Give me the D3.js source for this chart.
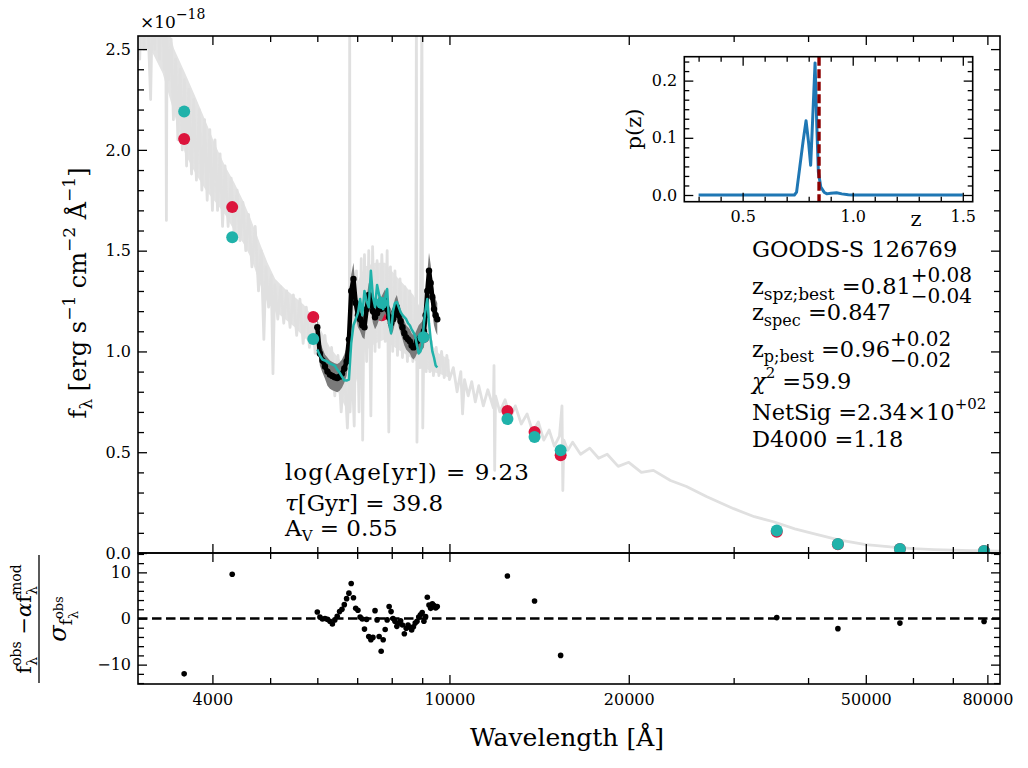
<!DOCTYPE html>
<html><head><meta charset="utf-8">
<script src="https://cdn.jsdelivr.net/npm/d3@7"></script>
<style>body{margin:0;background:#fff} text{font-family:'DejaVu Serif';}</style>
</head><body>
<svg id="c" width="1028" height="768"></svg>
<script>
// ---------------- DATA ----------------
const modelWave = [3000,3020,3045,3070,3095,3120,3150,3175,3200,3230,3260,3290,3320,3340,3348,3356,3380,3410,3440,3470,3500,3530,3560,3590,3620,3650,3690,3720,3760,3800,3840,3880,3920,3960,4000,4040,4080,4120,4160,4200,4250,4300,4350,4400,4450,4500,4550,4600,4660,4720,4780,4830,4880,4920,4970,5020,5055,5090,5150,5210,5270,5330,5400,5470,5540,5610,5680,5750,5820,5890,5950,6020,6100,6180,6260,6340,6420,6500,6580,6660,6740,6790,6800,6810,6860,6920,6980,7050,7110,7150,7200,7260,7320,7380,7430,7500,7560,7620,7700,7800,7860,7910,7960,8030,8100,8180,8260,8340,8420,8500,8580,8680,8780,8800,8820,8870,8930,8990,9020,9080,9140,9200,9270,9330,9400,9500,9600,9700,9800,9900,10000,10150,10300,10450,10520,10600,10750,10900,11050,11200,11400,11600,11850,11880,11910,11950,12150,12400,12650,12900,13200,13500,13800,14100,14400,14700,15000,15300,15450,15500,15560,15800,16100,16600,17200,17800,18400,19200,20000,21000,22000,23500,25000,27000,30000,32500,35000,38000,41000,45000,50000,55000,60000,65000,70000,75000,80000,84000];
const modelFlux = [2.80,2.45,2.90,2.50,2.85,2.60,2.25,2.80,2.50,2.85,2.45,2.75,2.40,2.65,1.65,2.55,2.35,2.55,2.15,2.45,2.05,2.40,2.00,2.35,1.92,2.30,1.88,2.25,1.85,2.20,1.80,2.15,1.75,2.10,1.70,2.05,1.70,1.98,1.62,1.92,1.62,1.86,1.58,1.80,1.55,1.74,1.50,1.68,1.42,1.62,1.30,1.50,1.06,1.42,1.22,1.38,0.89,1.33,1.16,1.32,1.14,1.30,1.12,1.28,1.08,1.26,1.04,1.22,1.02,1.18,0.99,1.14,0.95,1.08,0.88,1.02,0.78,0.98,0.70,0.92,0.62,0.88,2.70,0.70,0.95,0.63,1.40,0.70,1.46,0.56,1.48,0.95,1.50,0.68,1.52,1.00,1.45,1.02,1.48,1.05,1.50,0.60,1.42,1.00,1.40,0.98,1.36,0.97,1.32,0.95,1.30,0.95,1.25,2.70,0.55,1.22,0.92,2.70,0.62,1.28,0.90,1.30,0.90,1.05,0.88,1.02,0.88,1.00,0.87,0.98,0.86,0.92,0.80,0.90,0.69,0.86,0.78,0.85,0.75,0.83,0.73,0.81,0.72,0.93,0.41,0.78,0.70,0.76,0.67,0.73,0.64,0.69,0.60,0.65,0.56,0.61,0.53,0.58,0.73,0.31,0.56,0.51,0.55,0.49,0.52,0.47,0.49,0.43,0.45,0.40,0.41,0.36,0.33,0.28,0.22,0.18,0.155,0.12,0.095,0.065,0.042,0.03,0.022,0.017,0.014,0.012,0.01,0.009];
// envelope of the dense model band (blue end)
const envWave = [3000,3150,3300,3450,3600,3750,3900,4050,4200,4350,4500,4650,4800,4950,5100,5300,5500,5700,5900,6100,6300,6500,6700,6900,7200,7500,7800,8100,8400,8700,9000,9300,9600,10000];
const envHi   = [2.80,2.80,2.70,2.50,2.38,2.26,2.14,2.02,1.92,1.84,1.75,1.65,1.54,1.44,1.36,1.31,1.27,1.23,1.17,1.10,1.02,0.97,0.92,1.30,1.42,1.44,1.44,1.38,1.33,1.28,1.20,1.04,0.99,0.96];
const envLo   = [2.50,2.50,2.38,2.18,1.98,1.88,1.80,1.74,1.68,1.60,1.54,1.46,1.34,1.24,1.20,1.16,1.12,1.07,1.03,0.96,0.88,0.80,0.72,0.80,1.00,1.04,1.06,1.02,0.99,0.96,0.93,0.90,0.89,0.87];

const specWave = [6000,6060,6120,6180,6240,6300,6360,6420,6480,6540,6600,6660,6720,6780,6840,6900,6960,7020,7080,7140,7200,7260,7320,7380,7440,7500,7560,7620,7680,7740,7800,7860,7920,7980,8040,8100,8160,8220,8280,8340,8400,8460,8520,8580,8640,8700,8760,8820,8880,8940,9000,9060,9120,9180,9240,9300,9360,9420,9480,9540];
const specFlux = [1.12,0.99,0.955,0.925,0.90,0.885,0.878,0.872,0.868,0.875,0.89,0.915,0.95,1.06,1.30,1.36,1.24,1.18,1.16,1.13,1.12,1.21,1.28,1.26,1.20,1.17,1.19,1.22,1.21,1.23,1.25,1.21,1.17,1.14,1.16,1.20,1.22,1.18,1.15,1.12,1.09,1.07,1.06,1.05,1.03,1.02,1.03,1.05,1.06,1.07,1.08,1.10,1.18,1.30,1.40,1.34,1.27,1.21,1.18,1.16];
const specErr = [0.06,0.06,0.06,0.06,0.07,0.07,0.07,0.07,0.07,0.07,0.07,0.07,0.07,0.08,0.08,0.08,0.07,0.06,0.06,0.06,0.06,0.06,0.06,0.06,0.06,0.06,0.06,0.06,0.06,0.06,0.06,0.06,0.06,0.06,0.06,0.06,0.06,0.06,0.06,0.06,0.06,0.06,0.06,0.06,0.06,0.06,0.06,0.06,0.07,0.07,0.07,0.08,0.08,0.09,0.09,0.09,0.08,0.08,0.08,0.08];
const specModel = [1.01,0.98,0.96,0.955,0.95,0.94,0.935,0.93,0.91,0.895,0.875,0.857,0.856,0.86,1.04,1.13,1.16,1.19,1.26,1.18,1.30,1.25,1.22,1.40,1.27,1.22,1.33,1.28,1.25,1.21,1.27,1.31,1.14,1.09,1.20,1.24,1.245,1.22,1.195,1.18,1.17,1.16,1.14,1.13,1.11,1.095,1.075,1.03,0.99,1.00,1.03,1.14,1.21,1.26,1.14,1.06,1.00,0.97,0.93,0.92];
const specResid = [1.4,0.3,-0.1,0.0,-0.2,-0.6,-1.2,-0.3,0.5,1.5,2.0,3.0,4.3,5.5,7.6,4.5,2.2,1.8,0.3,-0.1,-2.3,-0.2,-3.9,-4.6,-4.1,1.7,-0.3,-3.9,-7.1,-4.6,-2.4,-0.3,2.6,1.5,0.0,-0.6,-1.7,-1.0,-0.5,-1.4,-3.3,-2.1,-1.4,-1.9,-2.5,-1.8,-1.0,-0.6,0.3,0.8,1.3,-0.6,0.4,4.6,2.9,2.2,3.2,2.8,2.3,2.6];

const photWave = [3586,4318,5907,7700,9042,12512,13895,15370,35440,44890,57050,78980];
const photObs  = [2.054,1.716,1.171,1.18,1.07,0.705,0.600,0.485,0.106,0.043,0.020,0.010];
const photMod  = [2.19,1.567,1.062,1.24,1.07,0.665,0.575,0.51,0.112,0.045,0.020,0.010];
const photResid = [-12.0,9.6,null,null,null,9.2,3.8,-8.0,0.2,-2.2,-1.0,-0.65];

const pzZ = [0.30,0.50,0.70,0.735,0.745,0.76,0.775,0.788,0.80,0.809,0.82,0.829,0.837,0.844,0.855,0.87,0.882,0.90,0.927,0.95,0.98,1.00,1.20,1.50];
const pzP = [0,0,0,0,0.005,0.05,0.095,0.13,0.09,0.052,0.15,0.231,0.12,0.04,0.014,0.005,0.002,0.003,0.004,0.002,0.0005,0,0,0];
const zSpec = 0.847;

const xMajor = [4000,10000,20000,50000,80000];
const xMinor = [5000,6000,7000,8000,9000,30000,40000,60000,70000];
const yMajor = [0,0.5,1.0,1.5,2.0,2.5];
const rMajor = [-10,0,10];
const izMajor = [0.5,1.0,1.5];
const ipMajor = [0,0.1,0.2];

// ---------------- SETUP ----------------
const FONT = 'DejaVu Serif';
const svg = d3.select('#c');
svg.append('rect').attr('width',1028).attr('height',768).attr('fill','#fff');

const L=138,R=1000,T=36,MB=553,RB=684;
const x = d3.scaleLog().domain([3000,84000]).range([L,R]);
const y = d3.scaleLinear().domain([0,2.565]).range([MB,T]);
const yr = d3.scaleLinear().domain([-14.2,14.2]).range([RB,MB]);

const defs = svg.append('defs');
defs.append('clipPath').attr('id','cm').append('rect').attr('x',L).attr('y',T).attr('width',R-L).attr('height',MB-T);
defs.append('clipPath').attr('id','cr').append('rect').attr('x',L).attr('y',MB).attr('width',R-L).attr('height',RB-MB);

function mtext(parent, px, py, segs, o={}) {
  const outer = parent.append('g').attr('transform', `translate(${px},${py})` + (o.rot!==undefined?` rotate(${o.rot})`:''));
  const g = outer.append('g');
  let cx = 0;
  const put = (s, at) => {
    const t = g.append('text').attr('x', at + (s.dx||0)).attr('y', s.dy||0)
      .attr('font-size', s.fs||o.fs||24).attr('font-family', FONT).attr('fill','#000')
      .attr('font-style', s.it?'italic':null).style('white-space','pre')
      .style('letter-spacing', s.ls!==undefined ? s.ls+'px' : (o.ls!==undefined? o.ls+'px': null)).text(s.t);
    return (s.dx||0) + t.node().getComputedTextLength();
  };
  for (const s of segs) {
    if (s.stack) { let w=0; for (const u of s.stack) w=Math.max(w, put(u,cx)); cx+=w; }
    else cx += put(s,cx);
  }
  if (o.anchor==='middle') g.attr('transform',`translate(${-cx/2},0)`);
  return cx;
}

function style(g, fs) {
  g.select('.domain').remove();
  g.selectAll('.tick line').attr('stroke','#000').attr('stroke-width',1.3);
  g.selectAll('.tick text').attr('font-family',FONT).attr('font-size',fs||16).attr('fill','#000');
}

// ---------------- MAIN PANEL ----------------
const gm = svg.append('g').attr('clip-path','url(#cm)');
gm.append('path').datum(envWave.map((w,i)=>[w,envHi[i],envLo[i]]))
  .attr('d', d3.area().x(d=>x(d[0])).y0(d=>y(d[2])).y1(d=>y(d[1])))
  .attr('fill','#e3e3e3');
const modelData = modelWave.map((w,i)=>[w,modelFlux[i]]);
gm.append('path').datum(modelData)
  .attr('d', d3.line().x(d=>x(d[0])).y(d=>y(d[1])))
  .attr('fill','none').attr('stroke','#e0e0e0').attr('stroke-width',2.8).attr('stroke-linejoin','round');

const phot = photWave.map((w,i)=>({w,o:photObs[i],m:photMod[i],r:photResid[i]}));
gm.selectAll('circle.po').data(phot).join('circle').attr('class','po')
  .attr('cx',d=>x(d.w)).attr('cy',d=>y(d.o)).attr('r',6).attr('fill','#dc143c');

const spec = specWave.map((w,i)=>({w,f:specFlux[i],e:specErr[i],m:specModel[i],r:specResid[i]}));
gm.append('path').datum(spec)
  .attr('d', d3.area().x(d=>x(d.w)).y0(d=>y(d.f-d.e)).y1(d=>y(d.f+d.e)))
  .attr('fill','#7a7a7a');
gm.append('path').datum(spec)
  .attr('d', d3.line().x(d=>x(d.w)).y(d=>y(d.f)))
  .attr('fill','none').attr('stroke','#000').attr('stroke-width',4.5).attr('stroke-linejoin','round');
gm.selectAll('circle.sd').data(spec).join('circle').attr('class','sd')
  .attr('cx',d=>x(d.w)).attr('cy',d=>y(d.f)).attr('r',3.2).attr('fill','#000');
gm.append('path').datum(spec)
  .attr('d', d3.line().x(d=>x(d.w)).y(d=>y(d.m)))
  .attr('fill','none').attr('stroke','#20b2aa').attr('stroke-width',2.5).attr('stroke-linejoin','round');
gm.selectAll('circle.pm').data(phot).join('circle').attr('class','pm')
  .attr('cx',d=>x(d.w)).attr('cy',d=>y(d.m)).attr('r',6).attr('fill','#20b2aa');

// main axes
const yMinor = d3.range(1,26).map(i=>i/10).filter(v=>Math.abs(v*2-Math.round(v*2))>1e-6);
style(svg.append('g').attr('transform',`translate(${L},0)`).call(d3.axisLeft(y).tickValues(yMajor).tickFormat(d3.format('.1f')).tickSize(-9).tickPadding(7)));
style(svg.append('g').attr('transform',`translate(${L},0)`).call(d3.axisLeft(y).tickValues(yMinor).tickFormat('').tickSize(-6)));
style(svg.append('g').attr('transform',`translate(${R},0)`).call(d3.axisRight(y).tickValues(yMajor).tickFormat('').tickSize(-9)));
style(svg.append('g').attr('transform',`translate(${R},0)`).call(d3.axisRight(y).tickValues(yMinor).tickFormat('').tickSize(-6)));
style(svg.append('g').attr('transform',`translate(0,${T})`).call(d3.axisTop(x).tickValues(xMajor).tickFormat('').tickSize(-9)));
style(svg.append('g').attr('transform',`translate(0,${T})`).call(d3.axisTop(x).tickValues(xMinor).tickFormat('').tickSize(-6)));
style(svg.append('g').attr('transform',`translate(0,${MB})`).call(d3.axisBottom(x).tickValues(xMajor).tickFormat('').tickSize(-9)));
style(svg.append('g').attr('transform',`translate(0,${MB})`).call(d3.axisBottom(x).tickValues(xMinor).tickFormat('').tickSize(-6)));
svg.append('rect').attr('x',L).attr('y',T).attr('width',R-L).attr('height',MB-T).attr('fill','none').attr('stroke','#000').attr('stroke-width',1.6);

// ---------------- RESIDUAL PANEL ----------------
const gr = svg.append('g').attr('clip-path','url(#cr)');
gr.append('line').attr('x1',x(3000)).attr('x2',x(84000)).attr('y1',yr(0)).attr('y2',yr(0))
  .attr('stroke','#000').attr('stroke-width',2.6).attr('stroke-dasharray','9.5,4.5');
gr.selectAll('circle.rs').data(spec).join('circle').attr('class','rs')
  .attr('cx',d=>x(d.w)).attr('cy',d=>yr(d.r)).attr('r',2.8).attr('fill','#000');
gr.selectAll('circle.rp').data(phot.filter(d=>d.r!==null)).join('circle').attr('class','rp')
  .attr('cx',d=>x(d.w)).attr('cy',d=>yr(d.r)).attr('r',2.8).attr('fill','#000');

const rMinor = d3.range(-14,15,2).filter(v=>v%10!==0);
style(svg.append('g').attr('transform',`translate(${L},0)`).call(d3.axisLeft(yr).tickValues(rMajor).tickFormat(d3.format('d')).tickSize(-9).tickPadding(7)));
style(svg.append('g').attr('transform',`translate(${L},0)`).call(d3.axisLeft(yr).tickValues(rMinor).tickFormat('').tickSize(-6)));
style(svg.append('g').attr('transform',`translate(${R},0)`).call(d3.axisRight(yr).tickValues(rMajor).tickFormat('').tickSize(-9)));
style(svg.append('g').attr('transform',`translate(${R},0)`).call(d3.axisRight(yr).tickValues(rMinor).tickFormat('').tickSize(-6)));
style(svg.append('g').attr('transform',`translate(0,${MB})`).call(d3.axisTop(x).tickValues(xMajor).tickFormat('').tickSize(-9)));
style(svg.append('g').attr('transform',`translate(0,${MB})`).call(d3.axisTop(x).tickValues(xMinor).tickFormat('').tickSize(-6)));
style(svg.append('g').attr('transform',`translate(0,${RB})`).call(d3.axisBottom(x).tickValues(xMajor).tickFormat(d=>String(d)).tickSize(-9).tickPadding(10)));
style(svg.append('g').attr('transform',`translate(0,${RB})`).call(d3.axisBottom(x).tickValues(xMinor).tickFormat('').tickSize(-6)));
svg.append('rect').attr('x',L).attr('y',MB).attr('width',R-L).attr('height',RB-MB).attr('fill','none').attr('stroke','#000').attr('stroke-width',1.6);

// ---------------- INSET ----------------
const IL=684.3, IR=972.7, IT=56.7, IB=201.7;
const xi = d3.scaleLinear().domain([0.235,1.545]).range([IL,IR]);
const yi = d3.scaleLinear().domain([-0.0117,0.2418]).range([IB,IT]);
defs.append('clipPath').attr('id','ci').append('rect').attr('x',IL).attr('y',IT).attr('width',IR-IL).attr('height',IB-IT);
svg.append('rect').attr('x',IL).attr('y',IT).attr('width',IR-IL).attr('height',IB-IT).attr('fill','#fff');
const gi = svg.append('g').attr('clip-path','url(#ci)');
gi.append('path').datum(pzZ.map((z,i)=>[z,pzP[i]]))
  .attr('d', d3.line().x(d=>xi(d[0])).y(d=>yi(d[1])))
  .attr('fill','none').attr('stroke','#1f77b4').attr('stroke-width',3).attr('stroke-linejoin','round');
gi.append('line').attr('x1',xi(zSpec)).attr('x2',xi(zSpec)).attr('y1',IT).attr('y2',IB)
  .attr('stroke','#8b0000').attr('stroke-width',3.4).attr('stroke-dasharray','9,3.5');
const izMinor = d3.range(3,16).map(i=>i/10).filter(v=>Math.abs(v*2-Math.round(v*2))>1e-6);
const ipMinor = d3.range(0,15).map(i=>i/60).filter(v=>Math.abs(v*10-Math.round(v*10))>1e-6);
style(svg.append('g').attr('transform',`translate(${IL},0)`).call(d3.axisLeft(yi).tickValues(ipMajor).tickFormat(d3.format('.1f')).tickSize(-9).tickPadding(7)));
style(svg.append('g').attr('transform',`translate(${IL},0)`).call(d3.axisLeft(yi).tickValues(ipMinor).tickFormat('').tickSize(-5)));
style(svg.append('g').attr('transform',`translate(${IR},0)`).call(d3.axisRight(yi).tickValues(ipMajor).tickFormat('').tickSize(-9)));
style(svg.append('g').attr('transform',`translate(${IR},0)`).call(d3.axisRight(yi).tickValues(ipMinor).tickFormat('').tickSize(-5)));
style(svg.append('g').attr('transform',`translate(0,${IB})`).call(d3.axisBottom(xi).tickValues(izMajor).tickFormat(d3.format('.1f')).tickSize(-9).tickPadding(9)));
style(svg.append('g').attr('transform',`translate(0,${IB})`).call(d3.axisBottom(xi).tickValues(izMinor).tickFormat('').tickSize(-5)));
style(svg.append('g').attr('transform',`translate(0,${IT})`).call(d3.axisTop(xi).tickValues(izMajor).tickFormat('').tickSize(-9)));
style(svg.append('g').attr('transform',`translate(0,${IT})`).call(d3.axisTop(xi).tickValues(izMinor).tickFormat('').tickSize(-5)));
svg.append('rect').attr('x',IL).attr('y',IT).attr('width',IR-IL).attr('height',IB-IT).attr('fill','none').attr('stroke','#000').attr('stroke-width',1.6);
mtext(svg, 641, 129, [{t:'p(z)'}], {fs:21, rot:-90, anchor:'middle'});
mtext(svg, 916, 226, [{t:'z'}], {fs:21, anchor:'middle'});

// ---------------- LABELS ----------------
mtext(svg, 140, 28, [{t:'×10',fs:17},{t:'−18',fs:14,dy:-9}], {});
mtext(svg, 86, 293, [{t:'f'},{t:'λ',fs:17,dy:6},{t:' [erg s'},{t:'−1',fs:17,dy:-11},{t:' cm'},{t:'−2',fs:17,dy:-11},{t:' Å'},{t:'−1',fs:17,dy:-11},{t:']'}], {fs:24, rot:-90, anchor:'middle'});
mtext(svg, 567, 746, [{t:'Wavelength [Å]'}], {fs:25, anchor:'middle'});

// residual label (fraction)
const fr = svg.append('g').attr('transform','translate(39,619) rotate(-90)');
fr.append('line').attr('x1',-64).attr('x2',64).attr('y1',0).attr('y2',0).attr('stroke','#000').attr('stroke-width',1.3);
mtext(fr, 0, -8, [{t:'f'},{stack:[{t:'obs',fs:14,dy:-10},{t:'λ',fs:14,dy:6}]},{t:' −'},{t:'α',it:true},{t:'f'},{stack:[{t:'mod',fs:14,dy:-10},{t:'λ',fs:14,dy:6}]}], {fs:21, anchor:'middle'});
mtext(fr, 0, 27, [{t:'σ',it:true},{t:'f',fs:17,dy:6},{stack:[{t:'obs',fs:13,dy:-3},{t:'λ',fs:13,dy:12}]}], {fs:24, anchor:'middle'});

// right annotation block
const AX = 752, AF = 22.5;
mtext(svg, AX, 257, [{t:'GOODS-S 126769'}], {fs:AF});
mtext(svg, AX, 294, [{t:'z'},{t:'spz;best',fs:17,dy:6},{t:' =0.81'},{stack:[{t:'+0.08',fs:20,dy:-12},{t:'−0.04',fs:20,dy:9}]}], {fs:AF});
mtext(svg, AX, 320, [{t:'z'},{t:'spec',fs:16,dy:6},{t:' =0.847'}], {fs:AF});
mtext(svg, AX, 357, [{t:'z'},{t:'p;best',fs:16,dy:5},{t:' =0.96'},{stack:[{t:'+0.02',fs:20,dy:-11},{t:'−0.02',fs:20,dy:10}]}], {fs:AF});
mtext(svg, AX, 389, [{t:'χ',it:true},{t:'2',fs:15,dy:-11},{t:' =59.9'}], {fs:AF});
mtext(svg, AX, 420, [{t:'NetSig =2.34×10'},{t:'+02',fs:15,dy:-11}], {fs:AF});
mtext(svg, AX, 447, [{t:'D4000 =1.18'}], {fs:AF});

// left annotation block
mtext(svg, 285, 480, [{t:'log(Age[yr]) = 9.23',ls:1}], {fs:23});
mtext(svg, 285, 511, [{t:'τ',it:true},{t:'[Gyr] = 39.8'}], {fs:23});
mtext(svg, 285, 536, [{t:'A'},{t:'V',fs:15,dy:5},{t:' = 0.55'}], {fs:23});
</script>
</body></html>
